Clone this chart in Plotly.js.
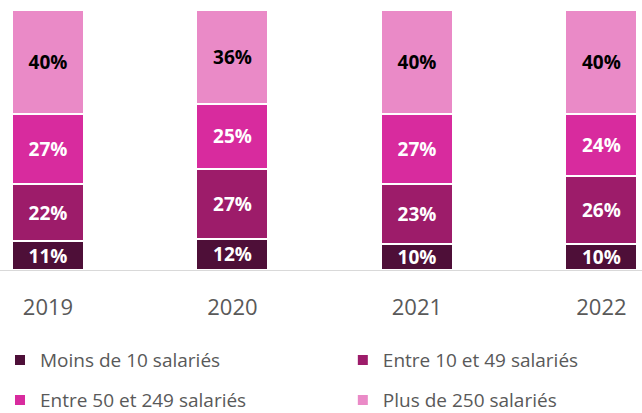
<!DOCTYPE html>
<html><head><meta charset="utf-8">
<script src="https://cdn.plot.ly/plotly-3.0.1.min.js"></script>
<style>html,body{margin:0;padding:0;background:#fff}#c{width:642px;height:413px}</style>
</head><body><div id="c"></div>
<script>
const years = ["2019", "2020", "2021", "2022"];
const seriesNames = ["Moins de 10 salariés", "Entre 10 et 49 salariés", "Entre 50 et 249 salariés", "Plus de 250 salariés"];
const moins10 = [11, 12, 10, 10];
const entre10_49 = [22, 27, 23, 26];
const entre50_249 = [27, 25, 27, 24];
const plus250 = [40, 36, 40, 40];
const colors = ["#4e0f38", "#9d1c6a", "#d82b9e", "#ea8ac7"];
const labelColors = ["#ffffff", "#ffffff", "#ffffff", "#000000"];
const legendIds = ["legend", "legend2", "legend3", "legend4"];
const values = [moins10, entre10_49, entre50_249, plus250];

const traces = values.map((v, i) => ({
  type: "bar",
  name: seriesNames[i],
  x: years,
  y: v,
  width: 0.39,
  marker: {color: colors[i], line: {color: "#ffffff", width: 2}},
  text: v.map(n => n + "%"),
  textposition: "inside",
  insidetextanchor: "middle",
  constraintext: "none",
  textangle: 0,
  textfont: {family: "'Open Sans', sans-serif", size: 19, color: labelColors[i], weight: "bold"},
  hoverinfo: "none",
  legend: legendIds[i]
}));

const legendFont = {family: "'Open Sans', sans-serif", size: 19, color: "#595959"};
const legendPos = [[-0.012, 0.128], [0.534, 0.128], [-0.012, 0.031], [0.534, 0.031]];
const layout = {
  width: 642, height: 413,
  margin: {l: 0, r: 0, t: 10, b: 143, autoexpand: false},
  paper_bgcolor: "#ffffff", plot_bgcolor: "#ffffff",
  barmode: "stack",
  bargap: 0,
  showlegend: true,
  xaxis: {
    type: "category",
    range: [-0.26, 3.22],
    showline: true, linecolor: "#d9d9d9", linewidth: 1,
    ticks: "", ticklabelstandoff: 18,
    tickfont: {family: "'Open Sans', sans-serif", size: 22, color: "#595959"},
    showgrid: false, zeroline: false, fixedrange: true, automargin: false
  },
  yaxis: {range: [0, 100], visible: false, showgrid: false, zeroline: false, automargin: false}
};
legendIds.forEach((id, i) => {
  layout[id] = {
    orientation: "h", xref: "container", yref: "container",
    x: legendPos[i][0], xanchor: "left", y: legendPos[i][1], yanchor: "middle",
    font: legendFont, itemwidth: 30, bgcolor: "rgba(0,0,0,0)"
  };
});
Plotly.newPlot("c", traces, layout, {displayModeBar: false, staticPlot: true});
</script>
</body></html>
